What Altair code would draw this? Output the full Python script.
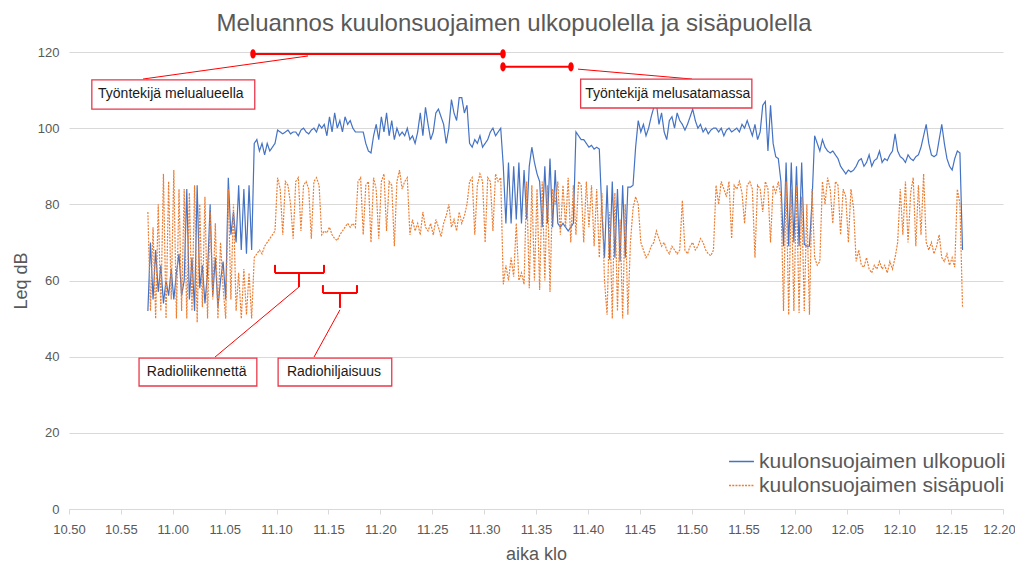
import altair as alt
import pandas as pd

# ---------------- data ----------------
# sampling: minutes after 10:50, first sample and spacing
START_MIN = 7.6
STEP_MIN = 0.25

SERIES_OUT = "kuulonsuojaimen ulkopuoli"
SERIES_IN = "kuulonsuojaimen sisäpuoli"

ulko = (
    [52, 70, 55, 68, 57, 64, 54, 60, 56, 63, 55, 62, 67, 56]
    + [60, 84, 55, 66, 52, 85, 58, 64, 54, 62, 80, 56, 66, 53, 60, 65, 55]
    + [87, 72, 78, 70, 85, 68, 84, 67, 85, 68]
    + [96, 97, 94, 96, 93, 96, 94, 95, 96]
    + [99.5, 99, 98.5, 99, 99.5, 98.5, 99, 99, 98, 99.5, 100, 99, 98.5, 99.5, 100, 99, 101, 100]
    + [101, 98, 103, 99, 104, 100, 102, 99, 103, 101, 102, 100, 99]
    + [99, 99, 99, 96, 94, 93.5, 98, 101, 97, 103, 99, 104, 98, 102, 97, 100, 98, 99, 98, 100, 97]
    + [98, 96, 99, 104, 98, 105.5, 101, 97, 99, 104, 105, 103, 101, 96, 100, 107.5, 104, 102, 108, 108, 104]
    + [106, 96, 95, 97, 96, 98, 95, 96, 97, 99, 100, 98, 99, 100]
    + [90, 75, 91, 75, 90, 76, 91, 75, 89, 76, 90, 95, 91, 88, 86, 74, 90, 75, 92, 74, 89, 75, 74, 75, 74, 73, 74, 75]
    + [99, 98, 97, 97, 96, 95, 95.5, 94.5, 95, 94.5, 78]
    + [66, 85, 65.5, 86, 66, 84, 65, 85, 66, 84.5, 84.5, 85, 95]
    + [102, 99, 101, 98, 100, 103, 105.5, 106.5, 101, 104, 99, 97, 102, 103, 100, 104, 102, 101, 99.5, 101,
       103, 105, 102, 100, 101, 99, 100, 98.5, 99.5, 100]
    + [100, 99, 100, 98, 99.5, 100, 99, 99.5, 100, 99, 101, 100, 102, 100, 98, 101, 97, 99, 106, 107,
       94, 106, 96, 92.5, 92]
    + [86, 69, 91, 69, 91, 70, 90, 69, 91, 69.5, 69, 69, 81]
    + [98, 96, 94, 97, 95, 94, 93.5, 94, 93, 92, 90, 89, 88, 89, 88.5, 89, 90, 91.5, 92, 90, 91, 93, 90, 91.5, 92, 94]
    + [91, 92, 91.5, 93, 94, 98.5, 94, 92.5, 92, 91, 93, 92, 91.5, 92.5, 93, 95, 98, 101, 96, 93,
       92.5, 93, 97, 101, 96, 92, 90, 89, 92, 94, 93.5, 68]
)

sisa = (
    [78, 52, 74, 50, 80, 52, 88, 50, 86, 55, 89, 50, 84, 52]
    + [84, 50, 83, 52, 85, 49, 80, 53, 82, 50, 78, 55, 75, 50, 70, 58, 50]
    + [84, 55, 80, 52, 62, 50, 63, 51, 62, 50]
    + [66, 67, 68, 67, 69, 70, 71, 72, 73]
    + [87, 84, 72, 86, 85, 80, 71, 86, 87, 73, 85, 86, 84, 71, 86, 87, 85, 72]
    + [73, 72.5, 74, 72, 71, 70.5, 72, 73, 74, 75, 74, 75, 74]
    + [86, 87, 72, 85, 86, 70, 87, 84, 71, 86, 88, 73, 86, 85, 69, 86, 89, 84, 86, 87, 72]
    + [76, 73, 75, 72, 78, 74, 73, 75, 72, 76, 74, 71.5, 75, 77, 80, 74, 76, 73, 78, 75, 77]
    + [80, 86, 87, 72, 85, 88, 86, 70, 87, 86, 73, 88, 86, 87]
    + [59, 64, 60, 66, 61, 75, 60, 62, 59, 86, 58, 85, 60, 84, 57.5, 86, 60, 85, 57, 84, 80, 86, 72, 85, 74, 87, 70, 85]
    + [72, 86, 85, 70, 86, 74, 85, 69, 84, 66, 83]
    + [60, 51, 78, 50, 83, 52, 76, 50, 80, 51, 70, 79, 82]
    + [80, 70, 68, 66, 67, 69, 70, 73, 71, 69, 70, 68, 67, 69, 68, 67, 68, 81, 68, 67,
       69, 70, 68, 69, 71, 70, 68, 67, 66.5, 68]
    + [85, 80, 86, 84, 82, 86, 71, 85, 84, 86, 83, 75, 85, 86, 84, 66, 85, 84, 78, 86,
       84, 70, 85, 83, 86]
    + [82, 52, 86, 51, 84, 52, 85, 51.5, 82, 52, 80, 51, 84]
    + [66, 64, 65, 86, 80, 87, 84, 75, 86, 85, 72, 84, 82, 70, 84, 79, 65, 68, 64, 63.5, 66, 63, 62, 64, 63, 65]
    + [63, 64, 62, 65, 63, 66, 70, 84, 72, 86, 70, 83, 87, 69, 85, 72, 88, 70, 68, 70,
       67, 69, 72, 66, 65, 67, 64, 66, 63.5, 84, 80, 53]
)

x_tick_values = [0, 5, 10, 15, 20, 25, 30, 35, 40, 45, 50, 55, 60, 65, 70, 75, 80, 85, 90]
x_tick_labels = ["10.50", "10.55", "11.00", "11.05", "11.10", "11.15", "11.20", "11.25", "11.30",
                 "11.35", "11.40", "11.45", "11.50", "11.55", "12.00", "12.05", "12.10", "12.15", "12.20"]

# annotation boxes (minutes, dB)
box_text = ["Työntekijä melualueella", "Työntekijä melusatamassa", "Radioliikennettä", "Radiohiljaisuus"]
box_x1 = [2.2, 49.3, 6.75, 20.15]
box_x2 = [17.9, 65.8, 18.1, 31.1]
box_y1 = [105.0, 105.3, 32.3, 32.3]
box_y2 = [112.7, 112.9, 39.6, 39.6]
box_tx = [2.8, 49.75, 7.5, 21.0]
box_ty = [108.9, 109.1, 36.0, 36.0]

# period markers (red, thick) and brackets
thick_x1 = [17.73, 41.82, 19.85, 19.85, 24.57, 22.16, 24.47, 24.47, 27.75, 26.11]
thick_x2 = [41.82, 48.37, 24.57, 19.85, 24.57, 22.16, 27.75, 24.47, 27.75, 26.11]
thick_y1 = [119.5, 116.1, 62.0, 62.0, 62.0, 62.0, 56.7, 56.7, 56.7, 56.7]
thick_y2 = [119.5, 116.1, 62.0, 64.1, 64.1, 58.3, 56.7, 58.8, 58.8, 52.8]

# leader lines (thin)
thin_x1 = [7.13, 49.05, 22.16, 26.11]
thin_x2 = [23.03, 60.03, 14.07, 23.61]
thin_y1 = [112.9, 115.5, 58.3, 52.3]
thin_y2 = [118.96, 112.9, 39.9, 39.9]

dot_x = [17.73, 41.82, 41.82, 48.37]
dot_y = [119.5, 119.5, 116.1, 116.1]

# ---------------- tables ----------------
rows = []
for i, v in enumerate(ulko):
    rows.append({"t": START_MIN + STEP_MIN * i, "leq": v, "sarja": SERIES_OUT})
for i, v in enumerate(sisa):
    rows.append({"t": START_MIN + STEP_MIN * i, "leq": v, "sarja": SERIES_IN})
df = pd.DataFrame(rows)

boxes = pd.DataFrame({"x1": box_x1, "x2": box_x2, "y1": box_y1, "y2": box_y2,
                      "tx": box_tx, "ty": box_ty, "txt": box_text})
thick = pd.DataFrame({"x1": thick_x1, "x2": thick_x2, "y1": thick_y1, "y2": thick_y2})
thin = pd.DataFrame({"x1": thin_x1, "x2": thin_x2, "y1": thin_y1, "y2": thin_y2})
dots = pd.DataFrame({"x": dot_x, "y": dot_y})

RED = "#FF0000"
GRAY = "#595959"
FONT = "Liberation Sans"

label_expr = "[" + ",".join("'" + s + "'" for s in x_tick_labels) + "][round(datum.value / 5)]"

xscale = alt.Scale(domain=[0, 90], nice=False, zero=False)
yscale = alt.Scale(domain=[0, 120], nice=False)

x_axis = alt.Axis(values=x_tick_values, labelExpr=label_expr, title="aika klo", grid=False,
                  labelOverlap=False, labelFlush=False,
                  labelOffset={"condition": {"test": "datum.value >= 90", "value": -4}, "value": 0},
                  domainColor="#D9D9D9", tickColor="#D9D9D9", tickSize=5, labelPadding=9,
                  labelFont=FONT, labelFontSize=13, labelColor=GRAY,
                  titleFont=FONT, titleFontSize=18, titleFontWeight="normal", titleColor=GRAY,
                  titlePadding=9)
y_axis = alt.Axis(values=[0, 20, 40, 60, 80, 100, 120], title="Leq dB", grid=True, gridColor="#D9D9D9",
                  domain=False, ticks=False, labelPadding=10,
                  labelFont=FONT, labelFontSize=13, labelColor=GRAY,
                  titleFont=FONT, titleFontSize=18, titleFontWeight="normal", titleColor=GRAY,
                  titlePadding=7)

legend = alt.Legend(title=None, orient="none", legendX=659, legendY=396,
                    symbolType="stroke", symbolSize=620, symbolStrokeWidth=1.5,
                    labelFont=FONT, labelFontSize=21, labelColor=GRAY, labelLimit=400,
                    labelOffset=4, rowPadding=0, padding=0)

lines = alt.Chart(df).mark_line(strokeWidth=1.2).encode(
    x=alt.X("t:Q", scale=xscale, axis=x_axis),
    y=alt.Y("leq:Q", scale=yscale, axis=y_axis),
    color=alt.Color("sarja:N",
                    scale=alt.Scale(domain=[SERIES_OUT, SERIES_IN], range=["#4472C4", "#ED7D31"]),
                    legend=legend),
    strokeDash=alt.StrokeDash("sarja:N",
                              scale=alt.Scale(domain=[SERIES_OUT, SERIES_IN], range=[[1, 0], [2, 1.2]]),
                              legend=legend),
)

thin_rules = alt.Chart(thin).mark_rule(color=RED, strokeWidth=1).encode(
    x="x1:Q", x2="x2:Q", y="y1:Q", y2="y2:Q")
thick_rules = alt.Chart(thick).mark_rule(color=RED, strokeWidth=2).encode(
    x="x1:Q", x2="x2:Q", y="y1:Q", y2="y2:Q")
dot_marks = alt.Chart(dots).mark_point(
    shape="M -0.6,0 A 0.6,1 0 1,0 0.6,0 A 0.6,1 0 1,0 -0.6,0 Z",
    filled=True, color=RED, opacity=1, size=85).encode(x="x:Q", y="y:Q")
box_marks = alt.Chart(boxes).mark_rect(fill="white", stroke="#E8384A", strokeWidth=1.3).encode(
    x="x1:Q", x2="x2:Q", y="y1:Q", y2="y2:Q")
box_texts = alt.Chart(boxes).mark_text(align="left", baseline="middle", font=FONT, fontSize=14,
                                       color="#1a1a1a").encode(x="tx:Q", y="ty:Q", text="txt:N")

chart = alt.layer(lines, thin_rules, thick_rules, dot_marks, box_marks, box_texts).properties(
    width=934, height=457,
    title=alt.TitleParams("Meluannos kuulonsuojaimen ulkopuolella ja sisäpuolella", font=FONT,
                          fontSize=24, fontWeight="normal", color=GRAY, offset=10, dx=-22),
    autosize=alt.AutoSizeParams(type="none"),
    padding={"left": 61, "top": 44, "right": 12, "bottom": 54},
).configure_view(stroke=None)

chart.save("out.html", embed_options={"renderer": "svg", "actions": False})
